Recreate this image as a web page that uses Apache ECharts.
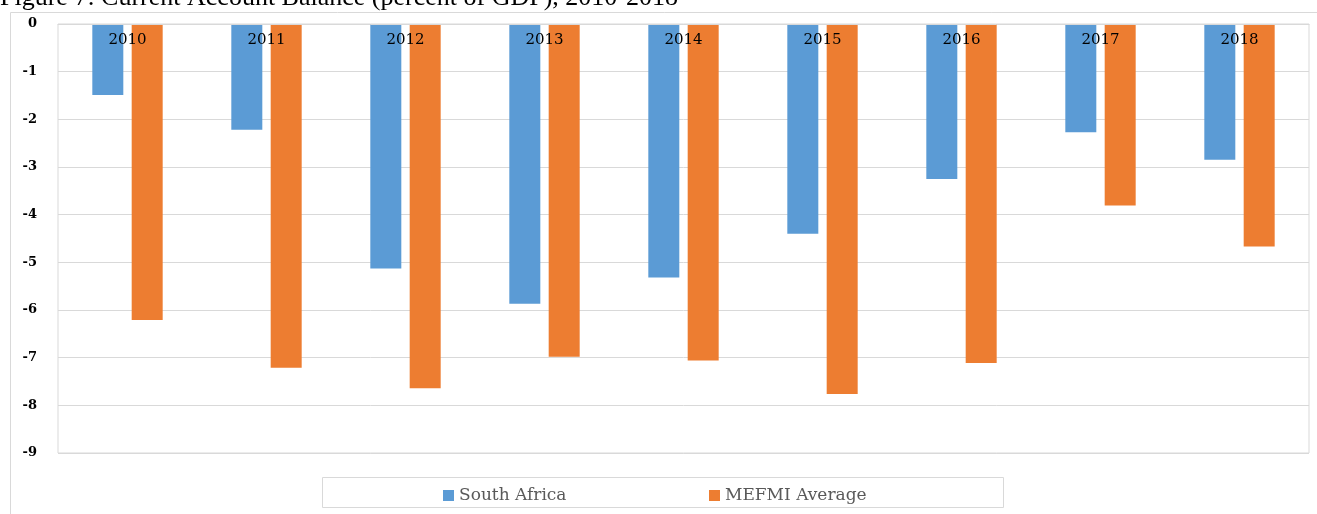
<!DOCTYPE html>
<html>
<head>
<meta charset="utf-8">
<script src="https://cdn.jsdelivr.net/npm/echarts@6/dist/echarts.min.js"></script>
<style>
  html, body { margin: 0; padding: 0; background: #fff; }
  #chart { width: 1317px; height: 514px; }
</style>
</head>
<body>
<div id="chart"></div>
<script>
// 数据
const years = ['2010', '2011', '2012', '2013', '2014', '2015', '2016', '2017', '2018']
const southAfrica = [-1.49, -2.22, -5.13, -5.87, -5.32, -4.40, -3.25, -2.27, -2.85]
const mefmiAvg = [-6.21, -7.21, -7.64, -6.98, -7.06, -7.76, -7.11, -3.81, -4.67]

const serif = '"DejaVu Serif", "Liberation Serif", serif'
const chart = echarts.init(document.getElementById('chart'))

const option = {
  animation: false,
  graphic: [
    {
      type: 'text',
      left: 0,
      top: -15,
      style: {
        text: 'Figure 7: Current Account Balance (percent of GDP), 2010-2018',
        font: '26px "Liberation Serif", serif',
        fill: '#000'
      }
    },
    // 外框
    {
      type: 'rect',
      shape: { x: 10.5, y: 12.5, width: 1330, height: 530 },
      style: { fill: 'none', stroke: '#d9d9d9', lineWidth: 1 },
      silent: true
    },
    // 图例框
    {
      type: 'rect',
      shape: { x: 322.5, y: 477.5, width: 681, height: 30 },
      style: { fill: 'none', stroke: '#d9d9d9', lineWidth: 1 },
      silent: true
    }
  ],
  grid: {
    left: 58,
    right: 8,
    top: 24,
    bottom: 61,
    show: true,
    borderColor: '#d9d9d9',
    borderWidth: 1
  },
  legend: [
    {
      data: ['South Africa'],
      left: 438,
      top: 482,
      itemWidth: 11,
      itemHeight: 11,
      icon: 'rect',
      textStyle: { fontFamily: serif, fontSize: 17, color: '#595959' }
    },
    {
      data: ['MEFMI Average'],
      left: 704,
      top: 482,
      itemWidth: 11,
      itemHeight: 11,
      icon: 'rect',
      textStyle: { fontFamily: serif, fontSize: 17, color: '#595959' }
    }
  ],
  xAxis: {
    type: 'category',
    data: years,
    position: 'top',
    z: 10,
    axisLine: { onZero: false, lineStyle: { color: '#d9d9d9' } },
    axisTick: { show: false },
    axisLabel: {
      inside: true,
      margin: 9,
      fontFamily: serif,
      fontSize: 15,
      color: '#000'
    }
  },
  yAxis: {
    type: 'value',
    min: -9,
    max: 0,
    interval: 1,
    axisLine: { show: false },
    axisTick: { show: false },
    splitLine: { lineStyle: { color: '#d9d9d9', width: 1 } },
    axisLabel: {
      margin: 21,
      fontFamily: serif,
      fontWeight: 'bold',
      fontSize: 13,
      color: '#000'
    }
  },
  series: [
    {
      name: 'South Africa',
      type: 'bar',
      data: southAfrica,
      barWidth: 31,
      barGap: '27%',
      itemStyle: { color: '#5b9bd5' }
    },
    {
      name: 'MEFMI Average',
      type: 'bar',
      data: mefmiAvg,
      barWidth: 31,
      barGap: '27%',
      itemStyle: { color: '#ed7d31' }
    }
  ]
}

chart.setOption(option)
</script>
</body>
</html>
